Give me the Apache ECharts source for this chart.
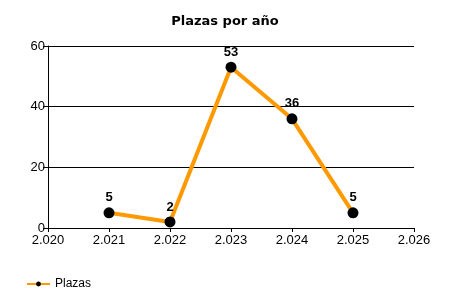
<!DOCTYPE html>
<html><head><meta charset="utf-8">
<script src="https://cdn.jsdelivr.net/npm/echarts@6/dist/echarts.min.js"></script>
<style>html,body{margin:0;padding:0;background:#fff}#c{width:450px;height:300px}</style>
</head><body><div id="c"></div>
<script>
var years = [2021, 2022, 2023, 2024, 2025];
var plazas = [5, 2, 53, 36, 5];
var seriesName = 'Plazas';
var titleText = 'Plazas por año';

var chart = echarts.init(document.getElementById('c'), null, {renderer: 'canvas'});
var font = 'Liberation Sans, Arial, sans-serif';
chart.setOption({
  animation: false,
  backgroundColor: '#fff',
  title: {text: titleText, left: 'center', top: 10,
    textStyle: {fontFamily: 'DejaVu Sans, sans-serif', fontSize: 13, fontWeight: 'bold', color: '#000'}},
  legend: {left: 21, top: 273, itemWidth: 23, itemHeight: 6, itemGap: 6,
    textStyle: {fontFamily: font, fontSize: 12, color: '#000', padding: [0, 0, 0, 0]}},
  grid: {left: 48, right: 36, top: 46, bottom: 72},
  xAxis: {type: 'value', min: 2020, max: 2026, interval: 1,
    axisLine: {lineStyle: {color: '#000', width: 1}},
    axisTick: {show: true, length: 4, lineStyle: {color: '#000'}},
    splitLine: {show: false},
    axisLabel: {fontFamily: font, fontSize: 13, color: '#000', margin: 6,
      formatter: function (v) { var s = String(v); return s.slice(0,1) + '.' + s.slice(1); }}
  },
  yAxis: {type: 'value', min: 0, max: 60, interval: 20,
    axisLine: {show: true, lineStyle: {color: '#000', width: 1}},
    axisTick: {show: true, length: 5, lineStyle: {color: '#000'}},
    splitLine: {show: true, lineStyle: {color: '#000', width: 1}},
    axisLabel: {fontFamily: font, fontSize: 13, color: '#000', margin: 3}
  },
  series: [{
    name: seriesName, type: 'line',
    data: years.map(function (y, i) { return [y, plazas[i]]; }),
    lineStyle: {color: '#FF9900', width: 4},
    itemStyle: {color: '#000', borderWidth: 0},
    symbol: 'circle', symbolSize: 11,
    label: {show: true, position: 'top', distance: 3, fontFamily: font, fontSize: 13, fontWeight: 'bold', color: '#000'}
  }]
});
</script></body></html>
